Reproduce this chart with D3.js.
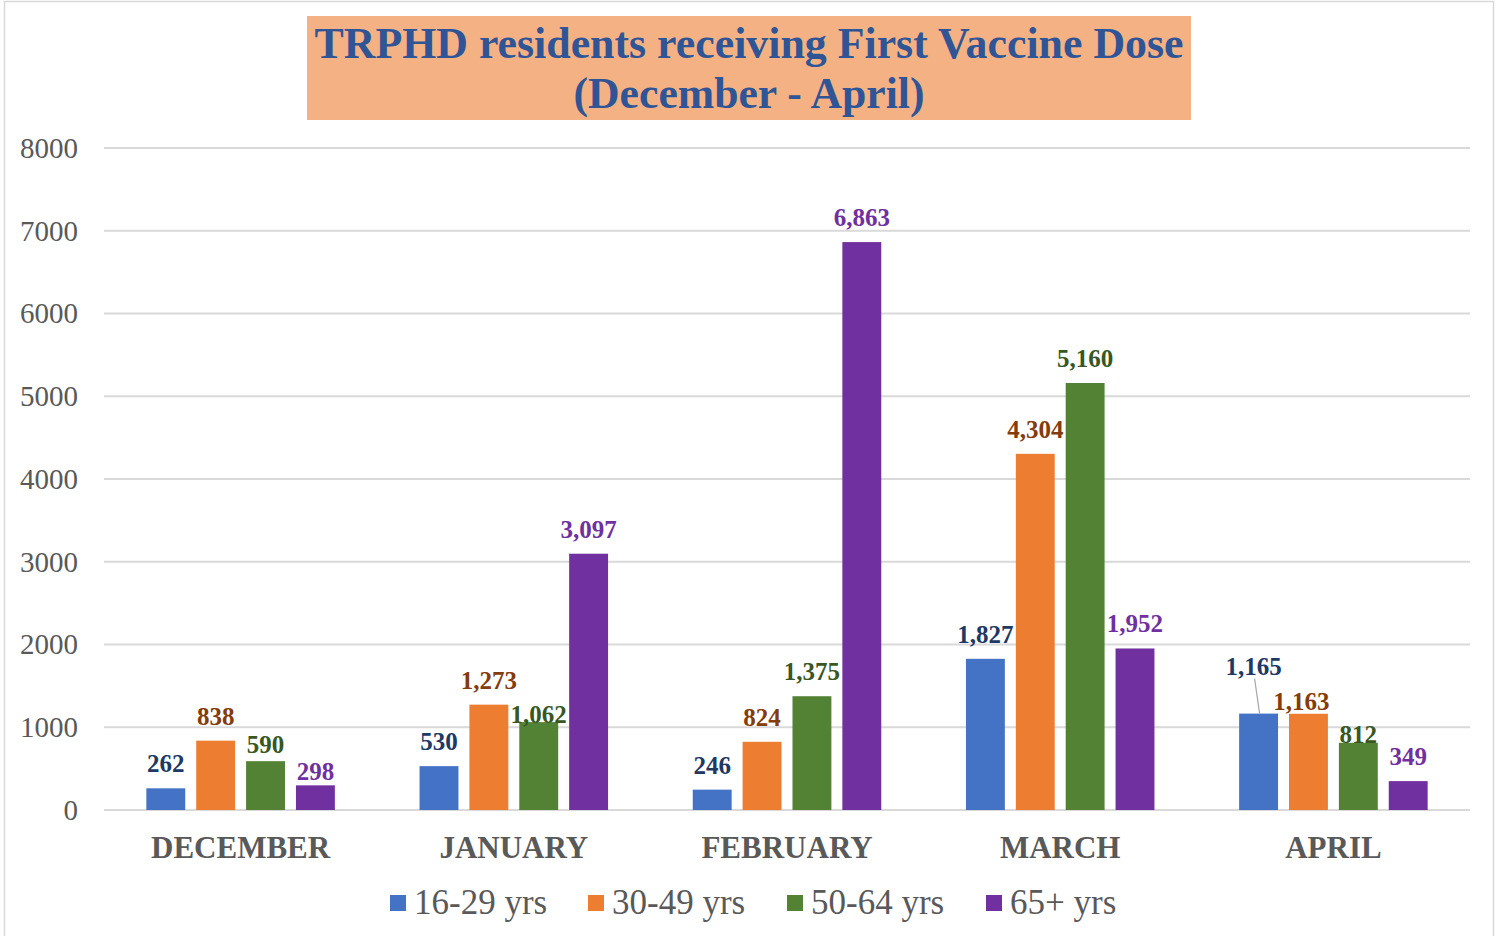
<!DOCTYPE html>
<html>
<head>
<meta charset="utf-8">
<script src="https://cdn.jsdelivr.net/npm/d3@7"></script>
<style>
  body { margin: 0; background: #fff; }
  svg { display: block; font-family: "Liberation Serif", "Times New Roman", serif; }
</style>
</head>
<body>
<div id="chart"></div>
<script>
// Data
const months = ["DECEMBER", "JANUARY", "FEBRUARY", "MARCH", "APRIL"];
const ageGroups = ["16-29 yrs", "30-49 yrs", "50-64 yrs", "65+ yrs"];
const age16to29 = [262, 530, 246, 1827, 1165];
const age30to49 = [838, 1273, 824, 4304, 1163];
const age50to64 = [590, 1062, 1375, 5160, 812];
const age65plus = [298, 3097, 6863, 1952, 349];
const yTicks = [0, 1000, 2000, 3000, 4000, 5000, 6000, 7000, 8000];

const seriesValues = [age16to29, age30to49, age50to64, age65plus];
const barColors = ["#4472C4", "#ED7D31", "#548235", "#7030A0"];
const labelColors = ["#203864", "#843C0C", "#385723", "#7030A0"];

// a few labels were moved by hand in the original
const labelNudge = {
  "JANUARY|2": {dx: 0, dy: 17},
  "DECEMBER|2": {dx: 0, dy: 8},
  "DECEMBER|3": {dx: 0, dy: 11},
  "APRIL|0": {dx: -5, dy: -23, leader: true},
  "APRIL|1": {dx: -7, dy: 12},
  "APRIL|2": {dx: 0, dy: 16}
};

const W = 1498, H = 936;
const margin = {top: 148, right: 28, bottom: 126, left: 104};
const width = W - margin.left - margin.right;
const height = H - margin.top - margin.bottom;

const svg = d3.select("#chart").append("svg")
  .attr("width", W)
  .attr("height", H);

// outer chart frame
svg.append("rect")
  .attr("x", 4.5).attr("y", 1.5)
  .attr("width", 1489).attr("height", 940)
  .attr("fill", "none")
  .attr("stroke", "#D9D9D9")
  .attr("stroke-width", 1.5);

// Title box
svg.append("rect")
  .attr("x", 307).attr("y", 16)
  .attr("width", 884).attr("height", 104)
  .attr("fill", "#F4B183");

svg.append("text")
  .attr("x", 749).attr("y", 58)
  .attr("text-anchor", "middle")
  .attr("textLength", 869)
  .attr("lengthAdjust", "spacingAndGlyphs")
  .style("font-size", "44px")
  .style("font-weight", "bold")
  .style("fill", "#2F5597")
  .text("TRPHD residents receiving First Vaccine Dose");

svg.append("text")
  .attr("x", 749).attr("y", 108)
  .attr("text-anchor", "middle")
  .attr("textLength", 351)
  .attr("lengthAdjust", "spacingAndGlyphs")
  .style("font-size", "44px")
  .style("font-weight", "bold")
  .style("fill", "#2F5597")
  .text("(December - April)");

const g = svg.append("g")
  .attr("transform", `translate(${margin.left}, ${margin.top})`);

const x0 = d3.scaleBand()
  .domain(months)
  .range([0, width])
  .paddingInner(0.31)
  .paddingOuter(0.155);

const x1 = d3.scaleBand()
  .domain(d3.range(ageGroups.length))
  .range([0, x0.bandwidth()])
  .paddingInner(0.22);

const y = d3.scaleLinear()
  .domain([0, 8000])
  .range([height, 0]);

// gridlines
g.append("g")
  .selectAll("line")
  .data(yTicks)
  .join("line")
  .attr("x1", 0).attr("x2", width)
  .attr("y1", d => y(d)).attr("y2", d => y(d))
  .attr("stroke", "#D9D9D9")
  .attr("stroke-width", 2);

// y axis labels
const yAxis = g.append("g")
  .call(d3.axisLeft(y).tickValues(yTicks).tickSize(0).tickPadding(26).tickFormat(d3.format("d")));
yAxis.select(".domain").remove();
yAxis.selectAll("text")
  .style("font-family", "Liberation Serif, serif")
  .style("font-size", "29px")
  .style("fill", "#595959");

// x axis labels
const xAxis = g.append("g")
  .attr("transform", `translate(0, ${height})`)
  .call(d3.axisBottom(x0).tickSize(0).tickPadding(26));
xAxis.select(".domain").remove();
xAxis.selectAll("text")
  .style("font-family", "Liberation Serif, serif")
  .style("font-size", "31px")
  .style("font-weight", "bold")
  .style("fill", "#595959");

// flatten into bar records
const bars = [];
months.forEach((m, i) => {
  seriesValues.forEach((vals, s) => {
    bars.push({month: m, series: s, value: vals[i]});
  });
});

const groups = g.selectAll(".month")
  .data(months)
  .join("g")
  .attr("class", "month")
  .attr("transform", d => `translate(${x0(d)}, 0)`);

groups.selectAll("rect")
  .data(m => bars.filter(b => b.month === m))
  .join("rect")
  .attr("x", d => x1(d.series))
  .attr("y", d => y(d.value))
  .attr("width", x1.bandwidth())
  .attr("height", d => height - y(d.value))
  .attr("fill", d => barColors[d.series]);

const fmt = d3.format(",");

function nudge(d) {
  return labelNudge[d.month + "|" + d.series] || {dx: 0, dy: 0};
}

// leader lines
groups.selectAll(".leader")
  .data(m => bars.filter(b => b.month === m && nudge(b).leader))
  .join("line")
  .attr("class", "leader")
  .attr("x1", d => x1(d.series) + x1.bandwidth() / 2 + nudge(d).dx + 1)
  .attr("y1", d => y(d.value) - 16 + nudge(d).dy + 4)
  .attr("x2", d => x1(d.series) + x1.bandwidth() / 2 + 1)
  .attr("y2", d => y(d.value))
  .attr("stroke", "#A6A6A6")
  .attr("stroke-width", 1.2);

groups.selectAll(".lbl")
  .data(m => bars.filter(b => b.month === m))
  .join("text")
  .attr("class", "lbl")
  .attr("x", d => x1(d.series) + x1.bandwidth() / 2 + nudge(d).dx)
  .attr("y", d => y(d.value) - 16 + nudge(d).dy)
  .attr("text-anchor", "middle")
  .style("font-size", "25px")
  .style("font-weight", "bold")
  .style("fill", d => labelColors[d.series])
  .text(d => fmt(d.value));

// legend
const legendX = [390, 588, 787, 986];
const legend = svg.append("g").selectAll("g")
  .data(ageGroups)
  .join("g")
  .attr("transform", (d, i) => `translate(${legendX[i]}, 895)`);

legend.append("rect")
  .attr("width", 16).attr("height", 16)
  .attr("fill", (d, i) => barColors[i]);

legend.append("text")
  .attr("x", 24).attr("y", 19)
  .style("font-size", "35px")
  .style("fill", "#595959")
  .text(d => d);
</script>
</body>
</html>
